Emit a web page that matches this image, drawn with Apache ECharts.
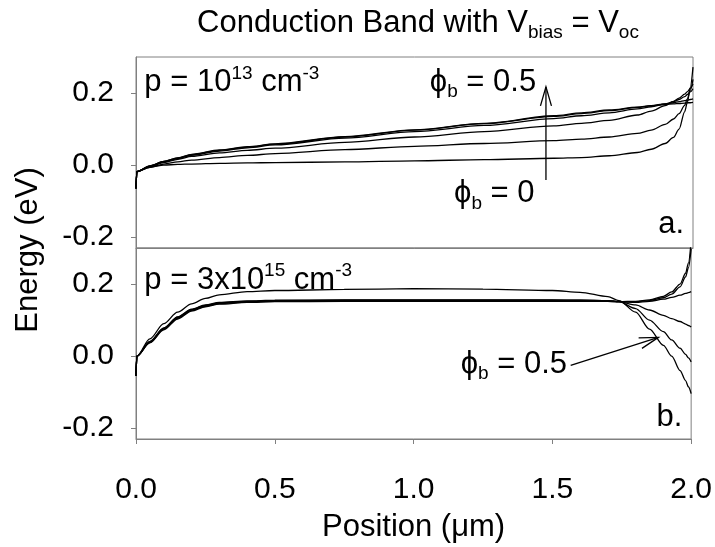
<!DOCTYPE html>
<html><head><meta charset="utf-8">
<script src="https://cdn.jsdelivr.net/npm/echarts@6/dist/echarts.min.js"></script>
<style>html,body{margin:0;padding:0;background:#fff}#c{width:715px;height:547px}</style>
</head><body><div id="c"></div>
<script>
// ---- data ----
const phiLabels = ['0', '0.1', '0.2', '0.3', '0.4', '0.5'];
const xTicks = [0, 0.5, 1.0, 1.5, 2.0];
const yTicks = [-0.2, 0, 0.2];

// panel a: p = 1e13 cm^-3
const xTop = [0, 0.003, 0.05, 0.1, 0.15, 0.2, 0.3, 0.4, 0.5, 0.75, 1.0, 1.25, 1.5, 1.6, 1.7, 1.8, 1.85, 1.9, 1.93, 1.95, 1.97, 1.98, 1.99, 2.0];
const topPhi00 = [-0.065, -0.018, -0.006, 0.0, 0.002, 0.003, 0.005, 0.006, 0.007, 0.009, 0.012, 0.015, 0.019, 0.021, 0.026, 0.035, 0.044, 0.06, 0.077, 0.1, 0.148, 0.175, 0.215, 0.272];
const topPhi01 = [-0.065, -0.018, -0.006, 0.003, 0.009, 0.014, 0.021, 0.027, 0.032, 0.043, 0.052, 0.06, 0.068, 0.072, 0.078, 0.088, 0.097, 0.113, 0.128, 0.143, 0.166, 0.184, 0.207, 0.238];
const topPhi02 = [-0.065, -0.018, -0.004, 0.007, 0.016, 0.024, 0.034, 0.041, 0.047, 0.063, 0.078, 0.093, 0.109, 0.116, 0.124, 0.139, 0.15, 0.165, 0.177, 0.186, 0.197, 0.204, 0.213, 0.225];
const topPhi03 = [-0.065, -0.018, -0.003, 0.009, 0.018, 0.027, 0.039, 0.048, 0.056, 0.075, 0.093, 0.11, 0.129, 0.137, 0.145, 0.156, 0.162, 0.17, 0.176, 0.182, 0.19, 0.196, 0.203, 0.212];
const topPhi04 = [-0.065, -0.018, -0.002, 0.01, 0.02, 0.029, 0.041, 0.05, 0.058, 0.078, 0.097, 0.115, 0.135, 0.143, 0.151, 0.16, 0.165, 0.17, 0.173, 0.176, 0.179, 0.18, 0.182, 0.184];
const topPhi05 = [-0.065, -0.018, -0.002, 0.01, 0.02, 0.03, 0.042, 0.051, 0.059, 0.079, 0.098, 0.116, 0.137, 0.145, 0.153, 0.161, 0.165, 0.168, 0.17, 0.171, 0.172, 0.173, 0.173, 0.174];

// panel b: p = 3e15 cm^-3
const xBot = [0, 0.003, 0.05, 0.1, 0.15, 0.2, 0.25, 0.3, 0.4, 0.5, 0.75, 1.0, 1.25, 1.5, 1.6, 1.7, 1.74, 1.8, 1.85, 1.9, 1.93, 1.96, 1.98, 1.99, 2.0];
const botPhi00 = [-0.055, 0.0, 0.037, 0.073, 0.103, 0.125, 0.137, 0.144, 0.149, 0.151, 0.152, 0.152, 0.152, 0.152, 0.152, 0.152, 0.151, 0.152, 0.156, 0.166, 0.178, 0.2, 0.23, 0.258, 0.32];
const botPhi01 = [-0.055, 0.0, 0.038, 0.075, 0.105, 0.127, 0.139, 0.146, 0.15, 0.152, 0.153, 0.153, 0.153, 0.153, 0.153, 0.152, 0.151, 0.151, 0.154, 0.162, 0.172, 0.192, 0.22, 0.245, 0.298];
const botPhi02 = [-0.055, 0.0, 0.039, 0.076, 0.107, 0.128, 0.14, 0.147, 0.151, 0.153, 0.154, 0.154, 0.154, 0.154, 0.154, 0.153, 0.151, 0.149, 0.152, 0.158, 0.163, 0.169, 0.174, 0.176, 0.179];
const botPhi03 = [-0.055, 0.0, 0.04, 0.077, 0.108, 0.129, 0.141, 0.148, 0.152, 0.154, 0.155, 0.155, 0.155, 0.155, 0.155, 0.154, 0.151, 0.142, 0.128, 0.113, 0.104, 0.096, 0.089, 0.085, 0.081];
const botPhi04 = [-0.055, 0.0, 0.041, 0.078, 0.109, 0.13, 0.142, 0.149, 0.153, 0.155, 0.156, 0.156, 0.156, 0.156, 0.155, 0.154, 0.151, 0.132, 0.1, 0.068, 0.045, 0.022, 0.005, -0.005, -0.016];
const botPhi05 = [-0.055, 0.0, 0.048, 0.09, 0.122, 0.145, 0.16, 0.17, 0.179, 0.182, 0.185, 0.187, 0.186, 0.182, 0.177, 0.165, 0.154, 0.122, 0.075, 0.03, 0.0, -0.04, -0.068, -0.085, -0.104];

// ---- chart ----
const FONT = '"Liberation Sans", Arial, Helvetica, sans-serif';
const GRAY = '#808080';
const topSets = [topPhi00, topPhi01, topPhi02, topPhi03, topPhi04, topPhi05];
const botSets = [botPhi00, botPhi01, botPhi02, botPhi03, botPhi04, botPhi05];

function mkSeries(xs, sets, idx) {
  return sets.map((ys, k) => ({
    type: 'line', name: 'phi_b = ' + phiLabels[k] + (idx ? ' (b)' : ' (a)'),
    xAxisIndex: idx, yAxisIndex: idx,
    data: xs.map((x, i) => [x, ys[i]]),
    showSymbol: false, symbol: 'none', smooth: 0.3, smoothMonotone: 'x',
    lineStyle: { color: '#000', width: 1.3 }, silent: true, animation: false, clip: true
  }));
}

const yAx = (g) => ({
  type: 'value', gridIndex: g, min: -0.23, max: 0.3,
  axisLine: { show: true, onZero: false, lineStyle: { color: GRAY, width: 1 } },
  axisTick: { show: true, inside: false, length: 5, customValues: yTicks, lineStyle: { color: GRAY } },
  axisLabel: { customValues: yTicks, formatter: v => v.toFixed(1), color: '#000', fontSize: 30, fontFamily: FONT, margin: 22 },
  splitLine: { show: false }
});

const chart = echarts.init(document.getElementById('c'), null, { renderer: 'canvas' });
const option = {
  backgroundColor: '#fff',
  animation: false,
  grid: [
    { left: 136, right: 22, top: 57, height: 191, show: true, borderColor: GRAY, borderWidth: 1 },
    { left: 136, right: 22, top: 248, height: 191, show: true, borderColor: GRAY, borderWidth: 1 }
  ],
  xAxis: [
    { type: 'value', gridIndex: 0, min: 0, max: 2, interval: 0.5,
      axisLine: { show: true, onZero: false, lineStyle: { color: GRAY } }, axisTick: { show: false },
      axisLabel: { show: false }, splitLine: { show: false } },
    { type: 'value', gridIndex: 1, min: 0, max: 2, interval: 0.5,
      axisLine: { show: true, onZero: false, lineStyle: { color: GRAY } },
      axisTick: { show: true, length: 5, lineStyle: { color: GRAY } },
      axisLabel: { formatter: v => v.toFixed(1), color: '#000', fontSize: 30, fontFamily: FONT, margin: 36 },
      splitLine: { show: false },
      name: 'Position (μm)', nameLocation: 'middle', nameGap: 73,
      nameTextStyle: { color: '#000', fontSize: 31, fontFamily: FONT } }
  ],
  yAxis: [yAx(0), yAx(1)],
  series: [...mkSeries(xTop, topSets, 0), ...mkSeries(xBot, botSets, 1)]
};
chart.setOption(option);

// ---- annotations (positioned in data coordinates) ----
const rich = {
  m: { fontSize: 31, lineHeight: 38, fontFamily: FONT, fill: '#000' },
  sup: { fontSize: 19, lineHeight: 23, verticalAlign: 'top', fontFamily: FONT, fill: '#000' },
  sub: { fontSize: 19, lineHeight: 15, verticalAlign: 'bottom', fontFamily: FONT, fill: '#000' }
};
const notes = [
  { g: 0, at: [0.03, 0.228], t: '{m|p = 10}{sup|13}{m| cm}{sup|-3}' },
  { g: 0, at: [1.055, 0.23], t: '{m|ϕ}{sub|b}{m| = 0.5}' },
  { g: 0, at: [1.142, -0.08], t: '{m|ϕ}{sub|b}{m| = 0}' },
  { g: 0, at: [1.875, -0.166], t: '{m|a.}' },
  { g: 1, at: [0.03, 0.211], t: '{m|p = 3x10}{sup|15}{m| cm}{sup|-3}' },
  { g: 1, at: [1.17, -0.022], t: '{m|ϕ}{sub|b}{m| = 0.5}' },
  { g: 1, at: [1.875, -0.17], t: '{m|b.}' }
];
const arrows = [
  { g: 0, from: [1.472, -0.041], to: [1.472, 0.217] },
  { g: 1, from: [1.566, -0.026], to: [1.882, 0.052] }
];
const P = (g, p) => chart.convertToPixel({ gridIndex: g }, p);
const graphic = [];
notes.forEach(n => {
  const [x, y] = P(n.g, n.at);
  graphic.push({ type: 'text', x, y, silent: true,
    style: { text: n.t, rich, align: 'left', verticalAlign: 'middle', fontSize: 31, fontFamily: FONT, fill: '#000' } });
});
arrows.forEach(a => {
  const s = P(a.g, a.from), e = P(a.g, a.to);
  const dx = e[0] - s[0], dy = e[1] - s[1], L = Math.hypot(dx, dy);
  const ux = dx / L, uy = dy / L, nx = -uy, ny = ux;
  const HL = 19, HW = 5.5;
  graphic.push({ type: 'polyline', silent: true, shape: { points: [s, e] }, style: { stroke: '#000', lineWidth: 1.3, fill: null } });
  graphic.push({ type: 'polyline', silent: true,
    shape: { points: [[e[0] - ux * HL + nx * HW, e[1] - uy * HL + ny * HW], e, [e[0] - ux * HL - nx * HW, e[1] - uy * HL - ny * HW]] },
    style: { stroke: '#000', lineWidth: 1.3, fill: null } });
});
// title
graphic.push({ type: 'text', x: 418, y: 23, silent: true,
  style: { text: '{m|Conduction Band with V}{sub|bias}{m| = V}{sub|oc}', rich, align: 'center', verticalAlign: 'middle', fontSize: 31, fontFamily: FONT, fill: '#000' } });
// y axis title
graphic.push({ type: 'text', x: 28, y: 250, rotation: Math.PI / 2, silent: true,
  style: { text: 'Energy (eV)', align: 'center', verticalAlign: 'middle', fontSize: 31, fontFamily: FONT, fill: '#000' } });
chart.setOption({ graphic });
</script>
</body></html>
